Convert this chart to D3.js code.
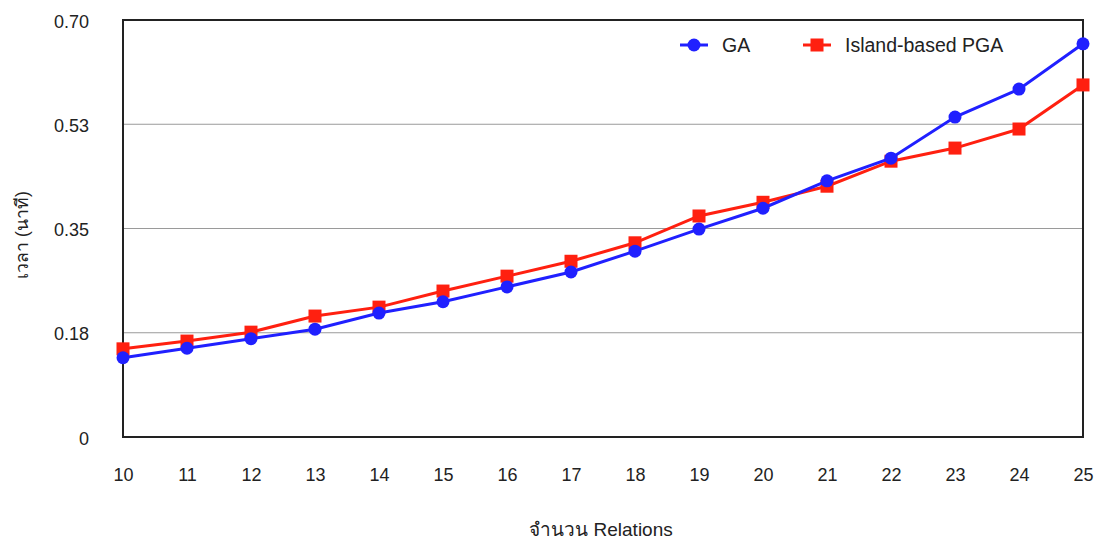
<!DOCTYPE html>
<html>
<head>
<meta charset="utf-8">
<script src="https://cdn.jsdelivr.net/npm/d3@7/dist/d3.min.js"></script>
<style>
  html, body { margin: 0; padding: 0; background: #fff; }
  text { font-family: "Liberation Sans", Arial, sans-serif; fill: #222; }
</style>
</head>
<body>
<svg id="chart" width="1094" height="541"></svg>
<script>
const relations = [10, 11, 12, 13, 14, 15, 16, 17, 18, 19, 20, 21, 22, 23, 24, 25];
const gaValues = [0.133, 0.149, 0.165, 0.181, 0.208, 0.227, 0.252, 0.277, 0.312, 0.349, 0.384, 0.430, 0.468, 0.537, 0.584, 0.660];
const pgaValues = [0.148, 0.161, 0.176, 0.203, 0.218, 0.245, 0.270, 0.295, 0.326, 0.371, 0.394, 0.421, 0.463, 0.485, 0.517, 0.591];
const yTickValues = [0, 0.175, 0.35, 0.525, 0.70];
const yTickLabels = ["0", "0.18", "0.35", "0.53", "0.70"];
const seriesNames = ["GA", "Island-based PGA"];
const xTitle = "จำนวน Relations";
const yTitle = "เวลา (นาที)";

const svg = d3.select("#chart");
const pLeft = 123, pRight = 1083, pTop = 20, pBottom = 437;

const x = d3.scaleLinear().domain([10, 25]).range([pLeft, pRight]);
const y = d3.scaleLinear().domain([0, 0.70]).range([pBottom, pTop]);

// gridlines
svg.append("g").selectAll("line")
  .data(yTickValues.filter(v => v > 0 && v < 0.70))
  .join("line")
  .attr("x1", pLeft).attr("x2", pRight)
  .attr("y1", d => y(d)).attr("y2", d => y(d))
  .attr("stroke", "#9a9a9a").attr("stroke-width", 1.2);

// y tick labels
const yAxis = d3.axisLeft(y).tickValues(yTickValues)
  .tickFormat((d, i) => yTickLabels[i]).tickSize(0).tickPadding(34);
const gy = svg.append("g").attr("transform", `translate(${pLeft},0)`).call(yAxis);
gy.select(".domain").remove();
gy.selectAll("text").attr("font-size", 18).style("font-family", "'Liberation Sans', Arial, sans-serif").attr("fill", "#222").attr("dy", "0.4em");

// x tick labels
const xAxis = d3.axisBottom(x).tickValues(relations).tickFormat(d3.format("d")).tickSize(0).tickPadding(31);
const gx = svg.append("g").attr("transform", `translate(0,${pBottom})`).call(xAxis);
gx.select(".domain").remove();
gx.selectAll("text").attr("font-size", 18).style("font-family", "'Liberation Sans', Arial, sans-serif").attr("fill", "#222");

// frame
svg.append("rect").attr("x", pLeft).attr("y", pTop)
  .attr("width", pRight - pLeft).attr("height", pBottom - pTop)
  .attr("fill", "none").attr("stroke", "#222").attr("stroke-width", 2);

const series = [
  { name: seriesNames[0], values: gaValues, color: "#2020ff", shape: "circle" },
  { name: seriesNames[1], values: pgaValues, color: "#ff2010", shape: "square" }
];

const line = d3.line().x((d, i) => x(relations[i])).y(d => y(d));

[series[1], series[0]].forEach(s => {
  svg.append("path").datum(s.values).attr("d", line)
    .attr("fill", "none").attr("stroke", s.color).attr("stroke-width", 3);
  const g = svg.append("g");
  if (s.shape === "circle") {
    g.selectAll("circle").data(s.values).join("circle")
      .attr("cx", (d, i) => x(relations[i])).attr("cy", d => y(d))
      .attr("r", 6.5).attr("fill", s.color);
  } else {
    g.selectAll("rect").data(s.values).join("rect")
      .attr("x", (d, i) => x(relations[i]) - 6.5).attr("y", d => y(d) - 6.5)
      .attr("width", 13).attr("height", 13).attr("fill", s.color);
  }
});

// legend
const legend = svg.append("g");
const leg = [
  { s: series[0], x0: 680, tx: 722 },
  { s: series[1], x0: 803, tx: 845 }
];
leg.forEach(l => {
  legend.append("line").attr("x1", l.x0).attr("x2", l.x0 + 28)
    .attr("y1", 45).attr("y2", 45).attr("stroke", l.s.color).attr("stroke-width", 3);
  if (l.s.shape === "circle") {
    legend.append("circle").attr("cx", l.x0 + 14).attr("cy", 45).attr("r", 6.5).attr("fill", l.s.color);
  } else {
    legend.append("rect").attr("x", l.x0 + 7.5).attr("y", 38.5).attr("width", 13).attr("height", 13).attr("fill", l.s.color);
  }
  legend.append("text").attr("x", l.tx).attr("y", 52).attr("font-size", 19.5).text(l.s.name);
});

// axis titles
svg.append("text").attr("x", 601).attr("y", 536).attr("text-anchor", "middle")
  .attr("font-size", 19).text(xTitle);
svg.append("text").attr("transform", "translate(28,235) rotate(-90)")
  .attr("text-anchor", "middle").attr("font-size", 17.5).text(yTitle);
</script>
</body>
</html>
